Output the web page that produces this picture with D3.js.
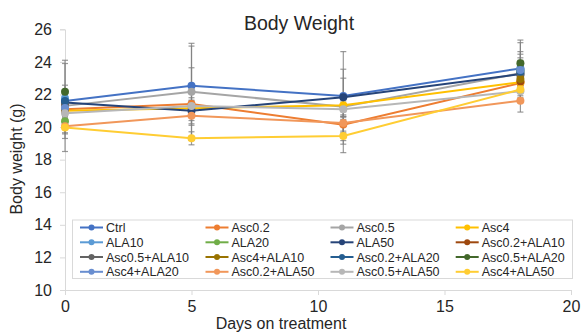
<!DOCTYPE html>
<html>
<head>
<meta charset="utf-8">
<script src="https://cdn.jsdelivr.net/npm/d3@7"></script>
<style>
  body { margin: 0; background: #fff; }
  text { font-family: "Liberation Sans", Arial, sans-serif; fill: #262626; }
</style>
</head>
<body>
<div id="chart"></div>
<script>
// days on treatment
var days = [0, 5, 11, 18];

var seriesNames = ["Ctrl", "Asc0.2", "Asc0.5", "Asc4",
  "ALA10", "ALA20", "ALA50", "Asc0.2+ALA10",
  "Asc0.5+ALA10", "Asc4+ALA10", "Asc0.2+ALA20", "Asc0.5+ALA20",
  "Asc4+ALA20", "Asc0.2+ALA50", "Asc0.5+ALA50", "Asc4+ALA50"];

var seriesColors = ["#4472C4", "#ED7D31", "#A5A5A5", "#FFC000",
  "#5B9BD5", "#70AD47", "#264478", "#9E480E",
  "#636363", "#997300", "#255E91", "#43682B",
  "#698ED0", "#F1975A", "#B7B7B7", "#FFCD33"];

// mean body weight (g) per series, one value per day (null = not measured)
var weights = [
  [21.6, 22.54, 21.9, 23.6],
  [21.1, 21.42, 20.15, 22.7],
  [21.3, 22.17, 21.25, 23.3],
  [21.0, 21.15, 21.34, 22.75],
  [21.77, null, null, 23.55],
  [20.35, null, null, 23.45],
  [21.5, 21.0, 21.83, 23.25],
  [21.0, null, null, 22.8],
  [21.4, null, null, 23.2],
  [21.1, null, null, 22.95],
  [21.6, null, null, 23.4],
  [22.17, null, null, 23.91],
  [21.17, null, null, 23.5],
  [20.05, 20.7, 20.25, 21.62],
  [20.85, 21.3, 21.1, 22.2],
  [19.98, 19.31, 19.45, 22.3]
];

// standard deviations for the error bars
var errors = [
  [2.3, 2.43, 2.73, 1.03],
  [0.4, 2.22, 0.5, 0.6],
  [2.8, 2.97, 2.3, 1.17],
  [0.5, 0.5, 0.4, 0.5],
  [0.5, null, null, 1.63],
  [0.4, null, null, 0.8],
  [0.6, 0.6, 1.17, 0.7],
  [0.4, null, null, 0.6],
  [0.5, null, null, 0.6],
  [0.4, null, null, 0.5],
  [0.5, null, null, 0.6],
  [0.4, null, null, 1.43],
  [0.5, null, null, 0.6],
  [0.4, 0.5, 0.5, 0.7],
  [0.5, 0.5, 0.5, 0.6],
  [0.4, 0.4, 1.02, 0.5]
];

var xTicks = [0, 5, 10, 15, 20];
var yTicks = [10, 12, 14, 16, 18, 20, 22, 24, 26];

var svgWidth = 582;
var svgHeight = 333;
var plot = { left: 65, right: 571, top: 29.3, bottom: 290 };

var svg = d3.select("#chart")
  .append("svg")
  .attr("width", svgWidth)
  .attr("height", svgHeight);

var xScale = d3.scaleLinear().domain([0, 20]).range([plot.left, plot.right]);
var yScale = d3.scaleLinear().domain([10, 26]).range([plot.bottom, plot.top]);

// y axis
var yAxis = svg.append("g")
  .attr("transform", `translate(${plot.left}, 0)`)
  .call(d3.axisLeft(yScale).tickValues(yTicks).tickSize(5).tickPadding(8));
yAxis.selectAll("text").style("font-size", "16px").attr("fill", "#262626");

// x axis
var xAxis = svg.append("g")
  .attr("transform", `translate(0, ${plot.bottom})`)
  .call(d3.axisBottom(xScale).tickValues(xTicks).tickSize(5).tickPadding(6));
xAxis.selectAll("text").style("font-size", "16px").attr("fill", "#262626");

svg.selectAll(".domain, .tick line").attr("stroke", "#d9d9d9").attr("stroke-width", 1);

// title and axis labels
svg.append("text")
  .attr("x", 299).attr("y", 30)
  .attr("text-anchor", "middle")
  .style("font-size", "19.5px")
  .text("Body Weight");

svg.append("text")
  .attr("transform", "translate(22, 159) rotate(-90)")
  .attr("text-anchor", "middle")
  .style("font-size", "16px")
  .text("Body weight (g)");

svg.append("text")
  .attr("x", 281).attr("y", 329)
  .attr("text-anchor", "middle")
  .style("font-size", "16px")
  .text("Days on treatment");

// error bars
var errGroup = svg.append("g");
weights.forEach(function(vals, i) {
  vals.forEach(function(v, j) {
    var e = errors[i][j];
    if (v === null || !e) return;
    var x = xScale(days[j]);
    var y1 = yScale(v + e), y2 = yScale(v - e);
    errGroup.append("line")
      .attr("x1", x).attr("x2", x).attr("y1", y1).attr("y2", y2);
    errGroup.append("line")
      .attr("x1", x - 3).attr("x2", x + 3).attr("y1", y1).attr("y2", y1);
    errGroup.append("line")
      .attr("x1", x - 3).attr("x2", x + 3).attr("y1", y2).attr("y2", y2);
  });
});
errGroup.selectAll("line")
  .attr("stroke", "#808080")
  .attr("stroke-width", 1.2)
  .attr("opacity", 0.8);

// lines and markers
var line = d3.line()
  .defined(d => d.v !== null)
  .x(d => xScale(d.day))
  .y(d => yScale(d.v));

weights.forEach(function(vals, i) {
  var pts = vals.map((v, j) => ({ day: days[j], v: v }));
  var g = svg.append("g");
  g.append("path")
    .datum(pts)
    .attr("d", line)
    .attr("fill", "none")
    .attr("stroke", seriesColors[i])
    .attr("stroke-width", 2);
  g.selectAll("circle")
    .data(pts.filter(d => d.v !== null))
    .enter()
    .append("circle")
    .attr("cx", d => xScale(d.day))
    .attr("cy", d => yScale(d.v))
    .attr("r", 4)
    .attr("fill", seriesColors[i]);
});

// legend
var legend = svg.append("g");
legend.append("rect")
  .attr("x", 72.5).attr("y", 220)
  .attr("width", 500).attr("height", 58.5)
  .attr("fill", "#fff")
  .attr("stroke", "#d9d9d9");

var colX = [80, 205.5, 330.5, 455.7];
var rowY = [227.5, 242.3, 257, 271.8];

seriesNames.forEach(function(name, i) {
  var cx = colX[i % 4], cy = rowY[Math.floor(i / 4)];
  var item = legend.append("g").attr("transform", `translate(${cx}, ${cy})`);
  item.append("line")
    .attr("x1", 0).attr("x2", 23)
    .attr("stroke", seriesColors[i])
    .attr("stroke-width", 2);
  item.append("circle")
    .attr("cx", 11.5).attr("r", 3)
    .attr("fill", seriesColors[i]);
  item.append("text")
    .attr("x", 26).attr("y", 4.5)
    .style("font-size", "12.5px")
    .text(name);
});
</script>
</body>
</html>
